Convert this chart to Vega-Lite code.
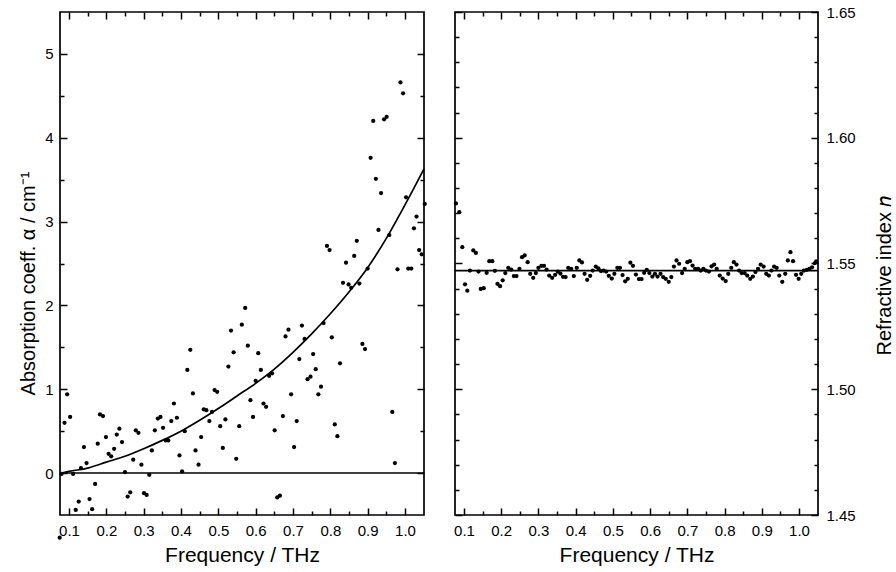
{
  "$schema": "https://vega.github.io/schema/vega-lite/v6.json",
  "background": "white",
  "padding": {"left": 17, "top": 4, "right": 2, "bottom": 2},
  "spacing": 21,
  "config": {
    "font": "Liberation Sans",
    "view": {"stroke": "black", "strokeWidth": 1.7},
    "axis": {"domain": false, "grid": false, "ticks": true, "tickColor": "black", "tickWidth": 1.5, "tickSize": -7,
      "labelColor": "black", "labelFontSize": 15, "labelFont": "Liberation Sans", "titleFont": "Liberation Sans",
      "titleFontSize": 20, "titleFontWeight": "normal", "titleColor": "black", "labelFlush": false, "labelOverlap": false}
  },
  "datasets": {
    "alpha": [
      {"f":0.0751,"a":-0.77},{"f":0.080,"a":-0.01},{"f":0.088,"a":0.60},{"f":0.095,"a":0.94},{"f":0.103,"a":0.67},{"f":0.111,"a":-0.01},{"f":0.118,"a":-0.44},{"f":0.126,"a":-0.34},{"f":0.132,"a":0.06},{"f":0.140,"a":0.31},{"f":0.147,"a":0.12},{"f":0.155,"a":-0.31},{"f":0.162,"a":-0.43},{"f":0.170,"a":-0.13},{"f":0.177,"a":0.35},{"f":0.183,"a":0.70},{"f":0.191,"a":0.68},{"f":0.199,"a":0.43},{"f":0.206,"a":0.23},{"f":0.213,"a":0.20},{"f":0.221,"a":0.29},{"f":0.228,"a":0.46},{"f":0.235,"a":0.53},{"f":0.242,"a":0.37},{"f":0.250,"a":0.01},{"f":0.257,"a":-0.28},{"f":0.264,"a":-0.23},{"f":0.272,"a":0.16},{"f":0.279,"a":0.51},{"f":0.286,"a":0.48},{"f":0.294,"a":0.10},{"f":0.301,"a":-0.24},{"f":0.308,"a":-0.26},{"f":0.315,"a":-0.02},{"f":0.322,"a":0.27},{"f":0.330,"a":0.51},{"f":0.338,"a":0.65},{"f":0.345,"a":0.67},{"f":0.352,"a":0.54},{"f":0.359,"a":0.39},{"f":0.366,"a":0.39},{"f":0.374,"a":0.62},{"f":0.381,"a":0.83},{"f":0.389,"a":0.66},{"f":0.396,"a":0.21},{"f":0.403,"a":0.02},{"f":0.410,"a":0.50},{"f":0.417,"a":1.23},{"f":0.425,"a":1.47},{"f":0.432,"a":0.95},{"f":0.439,"a":0.27},{"f":0.447,"a":0.10},{"f":0.454,"a":0.43},{"f":0.461,"a":0.76},{"f":0.468,"a":0.75},{"f":0.476,"a":0.62},{"f":0.483,"a":0.73},{"f":0.490,"a":0.99},{"f":0.497,"a":0.97},{"f":0.505,"a":0.56},{"f":0.512,"a":0.30},{"f":0.519,"a":0.64},{"f":0.527,"a":1.27},{"f":0.534,"a":1.70},{"f":0.541,"a":1.44},{"f":0.548,"a":0.17},{"f":0.556,"a":0.56},{"f":0.563,"a":1.77},{"f":0.572,"a":1.97},{"f":0.579,"a":1.52},{"f":0.586,"a":0.87},{"f":0.593,"a":0.67},{"f":0.600,"a":1.10},{"f":0.607,"a":1.43},{"f":0.614,"a":1.23},{"f":0.621,"a":0.83},{"f":0.628,"a":0.79},{"f":0.636,"a":1.16},{"f":0.644,"a":1.19},{"f":0.651,"a":0.51},{"f":0.658,"a":-0.29},{"f":0.665,"a":-0.27},{"f":0.673,"a":0.68},{"f":0.680,"a":1.63},{"f":0.688,"a":1.71},{"f":0.695,"a":0.94},{"f":0.703,"a":0.31},{"f":0.710,"a":0.62},{"f":0.717,"a":1.36},{"f":0.724,"a":1.76},{"f":0.731,"a":1.60},{"f":0.739,"a":1.12},{"f":0.747,"a":1.15},{"f":0.754,"a":1.42},{"f":0.761,"a":1.24},{"f":0.768,"a":0.94},{"f":0.775,"a":1.03},{"f":0.782,"a":1.79},{"f":0.791,"a":2.71},{"f":0.798,"a":2.66},{"f":0.804,"a":1.62},{"f":0.812,"a":0.58},{"f":0.819,"a":0.44},{"f":0.826,"a":1.31},{"f":0.834,"a":2.27},{"f":0.842,"a":2.51},{"f":0.849,"a":2.25},{"f":0.856,"a":2.21},{"f":0.864,"a":2.59},{"f":0.871,"a":2.77},{"f":0.878,"a":2.26},{"f":0.886,"a":1.54},{"f":0.893,"a":1.48},{"f":0.900,"a":2.44},{"f":0.908,"a":3.76},{"f":0.915,"a":4.20},{"f":0.922,"a":3.51},{"f":0.929,"a":2.90},{"f":0.936,"a":3.34},{"f":0.944,"a":4.22},{"f":0.951,"a":4.25},{"f":0.958,"a":2.84},{"f":0.966,"a":0.73},{"f":0.973,"a":0.12},{"f":0.980,"a":2.43},{"f":0.988,"a":4.66},{"f":0.995,"a":4.53},{"f":1.003,"a":3.29},{"f":1.009,"a":2.44},{"f":1.017,"a":2.44},{"f":1.024,"a":2.92},{"f":1.031,"a":3.06},{"f":1.038,"a":2.66},{"f":1.045,"a":2.61},{"f":1.053,"a":3.21}
    ],
    "fit": [
      {"f":0.08,"a":0.0},{"f":0.1,"a":0.02},{"f":0.15,"a":0.06},{"f":0.2,"a":0.13},{"f":0.25,"a":0.20},{"f":0.3,"a":0.29},{"f":0.35,"a":0.39},{"f":0.4,"a":0.50},{"f":0.45,"a":0.63},{"f":0.5,"a":0.77},{"f":0.55,"a":0.92},{"f":0.6,"a":1.07},{"f":0.65,"a":1.24},{"f":0.7,"a":1.44},{"f":0.75,"a":1.66},{"f":0.8,"a":1.90},{"f":0.85,"a":2.16},{"f":0.9,"a":2.45},{"f":0.95,"a":2.80},{"f":1.0,"a":3.20},{"f":1.051,"a":3.63}
    ],
    "zero": [{"a": 0}],
    "nidx": [
      {"f":0.0785,"n":1.5739},{"f":0.0874,"n":1.5704},{"f":0.0955,"n":1.5565},{"f":0.1028,"n":1.5417},{"f":0.109,"n":1.5392},{"f":0.116,"n":1.5472},{"f":0.125,"n":1.5552},{"f":0.132,"n":1.5542},{"f":0.139,"n":1.5468},{"f":0.145,"n":1.5399},{"f":0.153,"n":1.5402},{"f":0.161,"n":1.5463},{"f":0.168,"n":1.5509},{"f":0.176,"n":1.5509},{"f":0.183,"n":1.5471},{"f":0.190,"n":1.5419},{"f":0.197,"n":1.5410},{"f":0.204,"n":1.5433},{"f":0.211,"n":1.5462},{"f":0.219,"n":1.5483},{"f":0.227,"n":1.5476},{"f":0.234,"n":1.5450},{"f":0.241,"n":1.5450},{"f":0.249,"n":1.5479},{"f":0.256,"n":1.5525},{"f":0.263,"n":1.5532},{"f":0.271,"n":1.5505},{"f":0.278,"n":1.5459},{"f":0.286,"n":1.5443},{"f":0.293,"n":1.5462},{"f":0.300,"n":1.5483},{"f":0.308,"n":1.5491},{"f":0.315,"n":1.5491},{"f":0.322,"n":1.5476},{"f":0.329,"n":1.5452},{"f":0.337,"n":1.5443},{"f":0.345,"n":1.5455},{"f":0.352,"n":1.5468},{"f":0.359,"n":1.5460},{"f":0.366,"n":1.5447},{"f":0.373,"n":1.5446},{"f":0.380,"n":1.5483},{"f":0.388,"n":1.5479},{"f":0.395,"n":1.5450},{"f":0.403,"n":1.5483},{"f":0.410,"n":1.5512},{"f":0.417,"n":1.5504},{"f":0.424,"n":1.5459},{"f":0.431,"n":1.5435},{"f":0.439,"n":1.5451},{"f":0.446,"n":1.5472},{"f":0.454,"n":1.5488},{"f":0.461,"n":1.5481},{"f":0.468,"n":1.5470},{"f":0.475,"n":1.5472},{"f":0.482,"n":1.5468},{"f":0.489,"n":1.5451},{"f":0.497,"n":1.5440},{"f":0.504,"n":1.5459},{"f":0.512,"n":1.5483},{"f":0.519,"n":1.5483},{"f":0.526,"n":1.5454},{"f":0.533,"n":1.5429},{"f":0.540,"n":1.5439},{"f":0.547,"n":1.5503},{"f":0.554,"n":1.5491},{"f":0.562,"n":1.5456},{"f":0.570,"n":1.5438},{"f":0.577,"n":1.5438},{"f":0.584,"n":1.5463},{"f":0.591,"n":1.5475},{"f":0.598,"n":1.5462},{"f":0.606,"n":1.5448},{"f":0.613,"n":1.5459},{"f":0.620,"n":1.5448},{"f":0.628,"n":1.5459},{"f":0.635,"n":1.5446},{"f":0.642,"n":1.5439},{"f":0.650,"n":1.5427},{"f":0.657,"n":1.5446},{"f":0.664,"n":1.5488},{"f":0.671,"n":1.5512},{"f":0.678,"n":1.5499},{"f":0.686,"n":1.5462},{"f":0.693,"n":1.5479},{"f":0.700,"n":1.5505},{"f":0.707,"n":1.5509},{"f":0.714,"n":1.5492},{"f":0.721,"n":1.5479},{"f":0.729,"n":1.5479},{"f":0.736,"n":1.5472},{"f":0.743,"n":1.5479},{"f":0.750,"n":1.5472},{"f":0.758,"n":1.5468},{"f":0.765,"n":1.5489},{"f":0.772,"n":1.5496},{"f":0.779,"n":1.5479},{"f":0.787,"n":1.5452},{"f":0.795,"n":1.5440},{"f":0.803,"n":1.5430},{"f":0.810,"n":1.5459},{"f":0.818,"n":1.5483},{"f":0.825,"n":1.5505},{"f":0.832,"n":1.5496},{"f":0.839,"n":1.5472},{"f":0.846,"n":1.5462},{"f":0.854,"n":1.5462},{"f":0.861,"n":1.5452},{"f":0.869,"n":1.5439},{"f":0.876,"n":1.5448},{"f":0.883,"n":1.5466},{"f":0.890,"n":1.5479},{"f":0.897,"n":1.5496},{"f":0.905,"n":1.5488},{"f":0.912,"n":1.5459},{"f":0.919,"n":1.5452},{"f":0.926,"n":1.5472},{"f":0.933,"n":1.5488},{"f":0.940,"n":1.5483},{"f":0.947,"n":1.5452},{"f":0.955,"n":1.5427},{"f":0.963,"n":1.5459},{"f":0.970,"n":1.5512},{"f":0.977,"n":1.5545},{"f":0.984,"n":1.5509},{"f":0.992,"n":1.5455},{"f":0.999,"n":1.5439},{"f":1.006,"n":1.5459},{"f":1.013,"n":1.5472},{"f":1.021,"n":1.5475},{"f":1.028,"n":1.5479},{"f":1.035,"n":1.5485},{"f":1.042,"n":1.5501},{"f":1.046,"n":1.5508}
    ],
    "nfit": [{"f":0.0759,"n":1.5472},{"f":1.051,"n":1.5472}]
  },
  "hconcat": [
    {
      "width": 364,
      "height": 503,
      "resolve": {"axis": {"x": "independent", "y": "independent"}},
      "layer": [
        {
          "data": {"name": "alpha"},
          "mark": {"type": "circle", "size": 18, "color": "black", "opacity": 1},
          "encoding": {
            "x": {"field": "f", "type": "quantitative", "scale": {"domain": [0.0759, 1.051], "nice": false, "zero": false},
              "axis": {"orient": "bottom", "values": [0.1,0.15,0.2,0.25,0.3,0.35,0.4,0.45,0.5,0.55,0.6,0.65,0.7,0.75,0.8,0.85,0.9,0.95,1.0],
                "format": ".1f", "labelExpr": "round(datum.value*20) % 2 === 0 ? datum.label : ''",
                "tickDash": {"condition": {"test": "round(datum.value*20) % 2 !== 0", "value": [4, 20]}, "value": [10, 0]},
                "labelPadding": 15, "title": "Frequency / THz", "titleFontSize": 21, "titlePadding": 6}},
            "y": {"field": "a", "type": "quantitative", "scale": {"domain": [-0.5, 5.5], "nice": false, "zero": false},
              "axis": {"orient": "left", "values": [0,0.5,1,1.5,2,2.5,3,3.5,4,4.5,5],
                "format": ".1~f", "labelExpr": "round(datum.value*2) % 2 === 0 ? datum.label : ''",
                "tickDash": {"condition": {"test": "round(datum.value*2) % 2 !== 0", "value": [4, 20]}, "value": [10, 0]},
                "labelPadding": 14, "title": "Absorption coeff. α / cm⁻¹", "titlePadding": 6, "titleY": 271}}
          }
        },
        {
          "data": {"name": "fit"},
          "mark": {"type": "line", "color": "black", "strokeWidth": 1.7, "interpolate": "monotone"},
          "encoding": {
            "x": {"field": "f", "type": "quantitative",
              "axis": {"orient": "top", "values": [0.1,0.15,0.2,0.25,0.3,0.35,0.4,0.45,0.5,0.55,0.6,0.65,0.7,0.75,0.8,0.85,0.9,0.95,1.0],
                "labels": false, "title": null,
                "tickDash": {"condition": {"test": "round(datum.value*20) % 2 !== 0", "value": [4, 20]}, "value": [10, 0]}}},
            "y": {"field": "a", "type": "quantitative",
              "axis": {"orient": "right", "values": [0,0.5,1,1.5,2,2.5,3,3.5,4,4.5,5], "labels": false, "title": null,
                "tickDash": {"condition": {"test": "round(datum.value*2) % 2 !== 0", "value": [4, 20]}, "value": [10, 0]}}}
          }
        },
        {
          "data": {"name": "zero"},
          "mark": {"type": "rule", "color": "black", "strokeWidth": 1.5},
          "encoding": {"y": {"field": "a", "type": "quantitative", "axis": null}}
        }
      ]
    },
    {
      "width": 363,
      "height": 503,
      "resolve": {"axis": {"x": "independent", "y": "independent"}},
      "layer": [
        {
          "data": {"name": "nidx"},
          "mark": {"type": "circle", "size": 18, "color": "black", "opacity": 1},
          "encoding": {
            "x": {"field": "f", "type": "quantitative", "scale": {"domain": [0.0759, 1.051], "nice": false, "zero": false},
              "axis": {"orient": "bottom", "values": [0.1,0.15,0.2,0.25,0.3,0.35,0.4,0.45,0.5,0.55,0.6,0.65,0.7,0.75,0.8,0.85,0.9,0.95,1.0],
                "format": ".1f", "labelExpr": "round(datum.value*20) % 2 === 0 ? datum.label : ''",
                "tickDash": {"condition": {"test": "round(datum.value*20) % 2 !== 0", "value": [4, 20]}, "value": [10, 0]},
                "labelPadding": 15, "title": "Frequency / THz", "titleFontSize": 21, "titlePadding": 6}},
            "y": {"field": "n", "type": "quantitative", "scale": {"domain": [1.45, 1.65], "nice": false, "zero": false},
              "axis": {"orient": "right", "values": [1.45,1.46,1.47,1.48,1.49,1.5,1.51,1.52,1.53,1.54,1.55,1.56,1.57,1.58,1.59,1.6,1.61,1.62,1.63,1.64,1.65],
                "format": ".2f", "labelExpr": "round(datum.value*100) % 5 === 0 ? datum.label : ''",
                "tickDash": {"condition": {"test": "round(datum.value*100) % 5 !== 0", "value": [4, 20]}, "value": [10, 0]},
                "labelPadding": 15, "title": "Refractive index 𝑛", "titleAngle": 270, "titleBaseline": "top", "titlePadding": 19, "titleY": 263}}
          }
        },
        {
          "data": {"name": "nfit"},
          "mark": {"type": "line", "color": "black", "strokeWidth": 1.7},
          "encoding": {
            "x": {"field": "f", "type": "quantitative",
              "axis": {"orient": "top", "values": [0.1,0.15,0.2,0.25,0.3,0.35,0.4,0.45,0.5,0.55,0.6,0.65,0.7,0.75,0.8,0.85,0.9,0.95,1.0],
                "labels": false, "title": null,
                "tickDash": {"condition": {"test": "round(datum.value*20) % 2 !== 0", "value": [4, 20]}, "value": [10, 0]}}},
            "y": {"field": "n", "type": "quantitative",
              "axis": {"orient": "left", "values": [1.45,1.46,1.47,1.48,1.49,1.5,1.51,1.52,1.53,1.54,1.55,1.56,1.57,1.58,1.59,1.6,1.61,1.62,1.63,1.64,1.65],
                "labels": false, "title": null,
                "tickDash": {"condition": {"test": "round(datum.value*100) % 5 !== 0", "value": [4, 20]}, "value": [10, 0]}}}
          }
        }
      ]
    }
  ]
}
